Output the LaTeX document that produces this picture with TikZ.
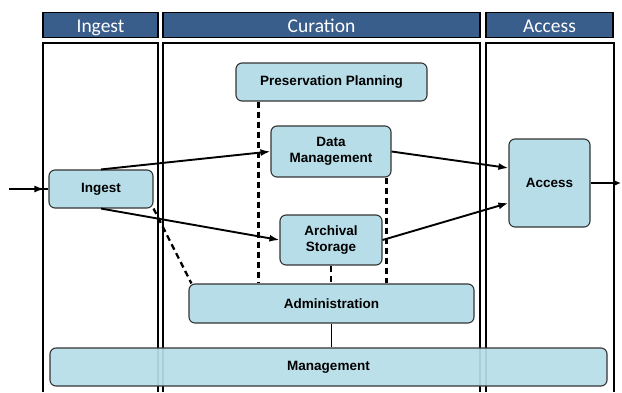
\documentclass[tikz,border=0pt]{standalone}
\usepackage{fontspec}
\setmainfont{Liberation Sans}
\newfontfamily\hdrfont{Carlito}
\usetikzlibrary{arrows.meta}

\definecolor{hdrblue}{HTML}{3A5E8C}
\definecolor{boxblue}{HTML}{B7DEE8}

\tikzset{
  proc/.style={draw=black!80, fill=boxblue, rounded corners=6pt, line width=1.1pt,
    font=\bfseries\fontsize{13.5}{16}\selectfont, align=center, inner sep=0pt},
  hdr/.style={draw=black, fill=hdrblue, line width=1.4pt, text=white,
    font=\hdrfont\fontsize{19.5}{20}\selectfont, inner sep=0pt, minimum height=24.6pt,
    text height=16pt, text depth=2pt},
  flow/.style={-{Latex[length=10pt,width=7pt]}, line width=1.9pt},
  link/.style={dash pattern=on 6pt off 4pt, line width=2.3pt},
}

\begin{document}
\begin{tikzpicture}[x=1pt,y=-1pt]
  \useasboundingbox (0,0) rectangle (622,392);

  % 1. Column headers
  \node[hdr, minimum width=115pt] (hIngest)   at (100.5,25) {Ingest};
  \node[hdr, minimum width=317pt] (hCuration) at (321.5,25) {Curation};
  \node[hdr, minimum width=127pt] (hAccess)   at (549.5,25) {Access};

  % 2. Column frames (open at the bottom)
  \foreach \l/\r in {43/158, 163/480, 486/614}
    \draw[line width=1.5pt] (\l,392) |- (\r,43) -- (\r,392);

  % 3. Functional entities
  \node[proc, minimum width=191pt, minimum height=38pt] (pp)   at (331.5,82)    {Preservation Planning};
  \node[proc, minimum width=120pt, minimum height=51pt] (dm)   at (331,151.5)   {Data\\Management};
  \node[proc, minimum width=102pt, minimum height=50pt] (as)   at (331,240)     {Archival\\Storage};
  \node[proc, minimum width=104pt, minimum height=38pt] (ing)  at (101,189)     {Ingest};
  \node[proc, minimum width=81pt,  minimum height=88pt] (acc)  at (549.5,183)   {Access};
  \node[proc, minimum width=285pt, minimum height=39pt] (adm)  at (331.5,303.5) {Administration};
  \node[proc, minimum width=557pt, minimum height=38pt, fill opacity=.93, text opacity=1]
    (mgmt) at (328.5,367) {Management};

  % 4. Links to Administration
  \draw[link] ([xshift=23pt]pp.south west) -- ([xshift=23pt]pp.south west |- adm.north);
  \draw[link] ([xshift=-5pt]dm.south east) -- ([xshift=-5pt]dm.south east |- adm.north);
  \draw[link] (as.south) -- (as.south |- adm.north);
  \draw[link] (ing.south east) -- ([xshift=3pt]adm.north west);
  \draw[line width=1.3pt] (adm.south) -- (adm.south |- mgmt.north);

  % 5. Data flow
  \coordinate (src) at (9,189);
  \coordinate (snk) at (621,183);
  \draw[line width=1.9pt] (src) -- (ing.west);
  \draw[flow] (src) -- ([xshift=-4pt]ing.west);
  \draw[flow] (ing.north) -- (dm.west);
  \draw[flow] (ing.south) -- (as.west);
  \draw[flow] (dm.east) -- ([yshift=15pt]acc.west);
  \draw[flow] (as.east) -- ([yshift=-20pt]acc.west);
  \draw[-{Latex[length=6pt,width=5pt]}, line width=1.9pt] (acc.east) -- (snk);
\end{tikzpicture}
\end{document}
